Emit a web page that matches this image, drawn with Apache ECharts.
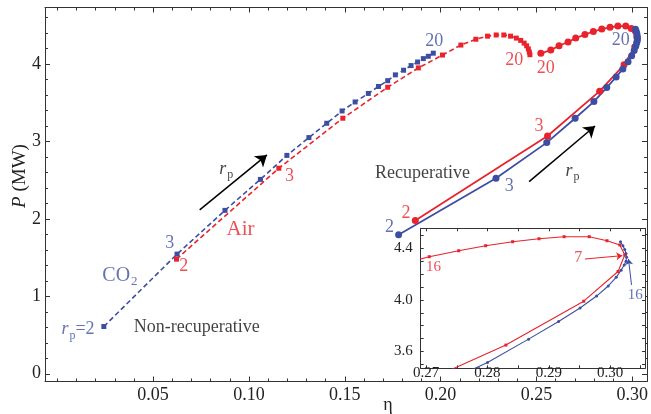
<!DOCTYPE html>
<html>
<head>
<meta charset="utf-8">
<script src="https://cdn.jsdelivr.net/npm/echarts@6/dist/echarts.min.js"></script>
<style>
html, body { margin: 0; padding: 0; background: #fff; }
#chart { width: 651px; height: 414px; }
</style>
</head>
<body>
<div id="chart"></div>
<script>
// pressure ratio r_p = 2 .. 20 for every series
const rpValues = [2, 3, 4, 5, 6, 7, 8, 9, 10, 11, 12, 13, 14, 15, 16, 17, 18, 19, 20];

// non-recuperative cycle (dashed, squares)
const nonRecupCO2Eta = [0.0243, 0.0625, 0.0875, 0.1060, 0.1198, 0.1313, 0.1406, 0.1486, 0.1554, 0.1623, 0.1676, 0.1724, 0.1764, 0.1807, 0.1846, 0.1880, 0.1910, 0.1936, 0.1962];
const nonRecupCO2P   = [0.61, 1.545, 2.11, 2.51, 2.82, 3.05, 3.235, 3.394, 3.51, 3.62, 3.71, 3.785, 3.86, 3.92, 3.98, 4.026, 4.07, 4.10, 4.14];
const nonRecupAirEta = [0.0622, 0.1156, 0.1490, 0.1724, 0.1884, 0.2010, 0.2106, 0.2184, 0.2245, 0.2290, 0.2330, 0.2365, 0.2395, 0.2418, 0.2436, 0.2449, 0.2458, 0.2463, 0.2466];
const nonRecupAirP   = [1.48, 2.654, 3.30, 3.70, 3.95, 4.116, 4.245, 4.32, 4.36, 4.375, 4.375, 4.36, 4.335, 4.305, 4.27, 4.235, 4.195, 4.155, 4.12];

// recuperative cycle (solid, circles)
const recupCO2Eta = [0.1781, 0.2289, 0.2554, 0.2702, 0.2800, 0.2867, 0.2916, 0.2951, 0.2978, 0.2997, 0.3010, 0.3018, 0.3023, 0.3026, 0.3027, 0.3026, 0.3024, 0.3021, 0.3017];
const recupCO2P   = [1.794, 2.525, 2.985, 3.30, 3.515, 3.696, 3.833, 3.937, 4.03, 4.108, 4.175, 4.23, 4.27, 4.30, 4.33, 4.36, 4.39, 4.42, 4.45];
const recupAirEta = [0.1868, 0.2558, 0.2830, 0.2957, 0.3013, 0.3024, 0.3016, 0.2995, 0.2966, 0.2925, 0.2884, 0.2841, 0.2797, 0.2753, 0.2705, 0.2665, 0.2618, 0.2575, 0.2523];
const recupAirP   = [1.978, 3.07, 3.65, 3.99, 4.22, 4.348, 4.426, 4.459, 4.49, 4.49, 4.474, 4.451, 4.42, 4.381, 4.335, 4.284, 4.236, 4.18, 4.138];

// ticks
const xMajor = [0.05, 0.10, 0.15, 0.20, 0.25, 0.30];
const xMinor = [0, 0.01, 0.02, 0.03, 0.04, 0.06, 0.07, 0.08, 0.09, 0.11, 0.12, 0.13, 0.14, 0.16, 0.17, 0.18, 0.19, 0.21, 0.22, 0.23, 0.24, 0.26, 0.27, 0.28, 0.29];
const yMajor = [0, 1, 2, 3, 4];
const yMinor = [0.2, 0.4, 0.6, 0.8, 1.2, 1.4, 1.6, 1.8, 2.2, 2.4, 2.6, 2.8, 3.2, 3.4, 3.6, 3.8, 4.2, 4.4, 4.6];
const insetXLabels = [0.27, 0.28, 0.29, 0.30];
const insetXTicks = [0.27, 0.275, 0.28, 0.285, 0.29, 0.295, 0.30, 0.305];
const insetYLabels = [3.6, 4.0, 4.4];
const insetYTicks = [3.5, 3.6, 3.7, 3.8, 3.9, 4.0, 4.1, 4.2, 4.3, 4.4, 4.5];

const BLUE = '#3d4ea2';
const RED = '#e8232b';
const INK = '#333';
const FONT = 'Liberation Serif';

const X_RANGE = [-0.0064, 0.3077];
const Y_RANGE = [-0.1, 4.73];
const INSET_X = [0.2691, 0.3057];
const INSET_Y = [3.47, 4.555];

const pairs = (xs, ys) => xs.map((x, i) => [x, ys[i]]);

// one frame side of an axis: ticks inside, optional labels
function frameAxis(grid, range, position, ticks, len, line, labels, labelOpts) {
    return {
        type: 'value', gridIndex: grid, min: range[0], max: range[1], position: position,
        z: grid === 1 ? 7 : 0,
        axisLine: { show: line, onZero: false, lineStyle: { color: INK, width: 1 } },
        axisTick: { show: true, inside: true, length: len, customValues: ticks, lineStyle: { color: INK, width: 1 } },
        axisLabel: labels ? Object.assign({ customValues: labels, fontFamily: FONT, color: '#222' }, labelOpts) : { show: false },
        splitLine: { show: false }
    };
}

const xAxes = [
    frameAxis(0, X_RANGE, 'bottom', xMajor, 5, true, xMajor, { fontSize: 18, margin: 5, formatter: v => v.toFixed(2) }),
    frameAxis(0, X_RANGE, 'bottom', xMinor, 3, false),
    frameAxis(0, X_RANGE, 'top', xMajor, 5, true),
    frameAxis(0, X_RANGE, 'top', xMinor, 3, false),
    frameAxis(1, INSET_X, 'bottom', insetXTicks, 3, true, insetXLabels, { fontSize: 15, margin: -3, formatter: v => v.toFixed(2) }),
    frameAxis(1, INSET_X, 'top', insetXTicks, 3, true)
];
const yAxes = [
    frameAxis(0, Y_RANGE, 'left', yMajor, 5, true, yMajor, { fontSize: 18, margin: 4, formatter: v => String(v) }),
    frameAxis(0, Y_RANGE, 'left', yMinor, 3, false),
    frameAxis(0, Y_RANGE, 'right', yMajor, 5, true),
    frameAxis(0, Y_RANGE, 'right', yMinor, 3, false),
    frameAxis(1, INSET_Y, 'left', insetYTicks, 3, true, insetYLabels, { fontSize: 15, margin: 8, formatter: v => v.toFixed(1) }),
    frameAxis(1, INSET_Y, 'right', insetYTicks, 3, true)
];

// text annotations in data coordinates
const mainTexts = [
    [0.1967, 4.288, '20', BLUE, 18],
    [0.2384, 4.052, '20', RED, 18],
    [0.2549, 3.945, '20', RED, 18],
    [0.2940, 4.310, '20', BLUE, 18],
    [0.1212, 2.546, '3', RED, 18],
    [0.2514, 3.190, '3', RED, 18],
    [0.2358, 2.426, '3', BLUE, 18],
    [0.1820, 2.074, '2', RED, 18],
    [0.1733, 1.893, '2', BLUE, 18],
    [0.0587, 1.686, '3', BLUE, 18],
    [0.0660, 1.385, '2', RED, 18],
    [0.0956, 1.858, 'Air', RED, 21],
    [0.0327, 1.265, '{a|CO}{s|2}', BLUE, 20],
    [0.0108, 0.570, '{i|r}{s|p}{a|=2}', BLUE, 18],
    [0.0728, 0.597, 'Non-recuperative', '#111', 18],
    [0.1906, 2.590, 'Recuperative', '#111', 18],
    [0.0882, 2.640, '{i|r}{s|p}', '#111', 18],
    [0.2688, 2.615, '{i|r}{s|p}', '#111', 18]
];
const insetTexts = [
    [0.2712, 4.258, '16', RED, 15],
    [0.2948, 4.323, '7', RED, 16],
    [0.3041, 4.040, '16', BLUE, 15]
];
const mainArrows = [[[0.0743, 2.116], [0.1094, 2.826]], [[0.2462, 2.481], [0.2806, 3.200]]];
const insetArrows = [[[0.2959, 4.317], [0.3020, 4.343], RED], [[0.3035, 4.116], [0.3030, 4.318], BLUE]];

function textItems(list) {
    return list.map(t => ({
        value: [t[0], t[1]],
        label: {
            formatter: t[2], color: t[3], fontSize: t[4],
            rich: {
                a: { fontFamily: FONT, fontSize: t[4], color: t[3] },
                i: { fontFamily: FONT, fontStyle: 'italic', fontSize: t[4], color: t[3] },
                s: { fontFamily: FONT, fontSize: Math.round(t[4] * 0.65), color: t[3], padding: [12, 0, 0, 1] }
            }
        }
    }));
}

function textSeries(list, xi, yi, z) {
    return {
        type: 'scatter', xAxisIndex: xi, yAxisIndex: yi, symbolSize: 1, z: z,
        itemStyle: { color: 'rgba(0,0,0,0)' },
        label: { show: true, position: 'inside', fontFamily: FONT },
        data: textItems(list)
    };
}

function curve(xs, ys, color, dashed, symbol, size, xi, yi, width, z) {
    return {
        type: 'line', xAxisIndex: xi, yAxisIndex: yi, data: pairs(xs, ys), z: z,
        symbol: symbol, symbolSize: size, showAllSymbol: true,
        lineStyle: { color: color, width: width, type: dashed ? [5, 3] : 'solid' },
        itemStyle: { color: color, borderWidth: 0 }
    };
}

const chart = echarts.init(document.getElementById('chart'));
chart.setOption({
    animation: false,
    backgroundColor: '#fff',
    grid: [
        { left: 45, top: 7.5, width: 603, height: 374 },
        { left: 420.7, top: 228.3, width: 224.3, height: 140, show: true, backgroundColor: '#fff', borderWidth: 0, z: 3 }
    ],
    xAxis: xAxes,
    yAxis: yAxes,
    graphic: [
        { type: 'text', x: 20, y: 176, rotation: Math.PI / 2, z: 20,
          style: { text: '{i|P} (MW)', align: 'center', verticalAlign: 'middle', fill: '#222',
                   rich: { i: { fontFamily: FONT, fontStyle: 'italic', fontSize: 19 } }, fontFamily: FONT, fontSize: 19 } },
        { type: 'text', x: 388, y: 405, z: 20,
          style: { text: 'η', align: 'center', verticalAlign: 'middle', fill: '#222', fontFamily: FONT, fontSize: 18 } }
    ],
    series: [
        curve(nonRecupCO2Eta, nonRecupCO2P, BLUE, true, 'rect', 5, 0, 0, 1.6, 2),
        curve(nonRecupAirEta, nonRecupAirP, RED, true, 'rect', 5, 0, 0, 1.6, 2),
        curve(recupAirEta, recupAirP, RED, false, 'circle', 7, 0, 0, 1.8, 2),
        curve(recupCO2Eta, recupCO2P, BLUE, false, 'circle', 7, 0, 0, 1.8, 2),
        curve(recupAirEta, recupAirP, RED, false, 'rect', 3, 4, 4, 1.1, 8),
        curve(recupCO2Eta, recupCO2P, BLUE, false, 'circle', 3, 4, 4, 1.1, 8),
        {
            type: 'lines', coordinateSystem: 'cartesian2d', xAxisIndex: 0, yAxisIndex: 0, z: 2,
            symbol: ['none', 'arrow'], symbolSize: 11,
            lineStyle: { color: '#000', width: 1.5, opacity: 1 },
            data: mainArrows.map(a => ({ coords: a }))
        },
        {
            type: 'lines', coordinateSystem: 'cartesian2d', xAxisIndex: 4, yAxisIndex: 4, z: 9,
            symbol: ['none', 'arrow'], symbolSize: 6,
            lineStyle: { width: 1, opacity: 1 },
            data: insetArrows.map(a => ({ coords: [a[0], a[1]], lineStyle: { color: a[2] } }))
        },
        textSeries(mainTexts, 0, 0, 10),
        textSeries(insetTexts, 4, 4, 10)
    ]
});
</script>
</body>
</html>
